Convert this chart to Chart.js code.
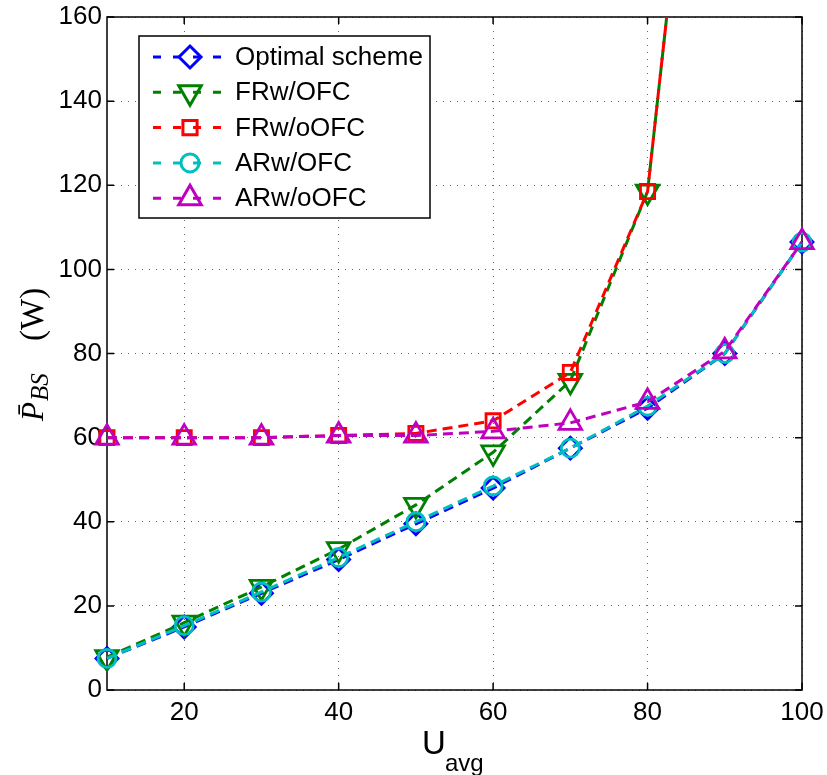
<!DOCTYPE html>
<html>
<head>
<meta charset="utf-8">
<script src="https://cdn.jsdelivr.net/npm/chart.js@4.4.0/dist/chart.umd.min.js"></script>
<style>
  body { margin: 0; background: #fff; }
  canvas { display: block; }
</style>
</head>
<body>
<canvas id="powerChart" width="827" height="775"></canvas>
<script>
// x values and tick labels
const uAvg = [10, 20, 30, 40, 50, 60, 70, 80, 90, 100];
const xTicks = [20, 40, 60, 80, 100];
const yTicks = [0, 20, 40, 60, 80, 100, 120, 140, 160];

// series (W)
const optimalScheme = [7.5, 15, 23, 31, 39.5, 48, 57.5, 67, 80, 106.5];
const frwOfc = [7.8, 16, 24.5, 33.5, 44, 56.5, 73.5, 118.5, 286, null];
const frwoOfc = [60, 60, 60, 60.5, 61, 64, 75.5, 118.5, 286, null];
const arwOfc = [7.5, 15.3, 23.3, 31.5, 40, 48.5, 57.5, 67.5, 80, 106.5];
const arwoOfc = [60, 60, 60, 60.5, 60.5, 61.5, 63.5, 68.5, 80.5, 106.5];

const seriesNames = ['Optimal scheme', 'FRw/OFC', 'FRw/oOFC', 'ARw/OFC', 'ARw/oOFC'];
const seriesData = [optimalScheme, frwOfc, frwoOfc, arwOfc, arwoOfc];

const styles = [
    { color: '#0000ff', pointStyle: 'rectRot', radius: 11, rotation: 0 },
    { color: '#008000', pointStyle: 'triangle', radius: 13, rotation: 180 },
    { color: '#ff0000', pointStyle: 'rect', radius: 10, rotation: 0 },
    { color: '#00bfbf', pointStyle: 'circle', radius: 9, rotation: 0 },
    { color: '#bf00bf', pointStyle: 'triangle', radius: 13, rotation: 0 }
];

const SANS = '"Liberation Sans", Arial, Helvetica, sans-serif';
const SERIF = '"Liberation Serif", "Times New Roman", serif';
const LINE_W = 3;
const MARK_W = 2.8;
const DASH = [10, 6];

// box around the axes with inward tick marks (matlab style)
const framePlugin = {
    id: 'frame',
    beforeDatasetsDraw(chart) {
        const { ctx, chartArea: a, scales: { x, y } } = chart;
        ctx.save();
        ctx.strokeStyle = '#000';
        ctx.lineWidth = 1.5;
        ctx.strokeRect(a.left, a.top, a.right - a.left, a.bottom - a.top);
        ctx.beginPath();
        xTicks.forEach(v => {
            const px = x.getPixelForValue(v);
            ctx.moveTo(px, a.bottom); ctx.lineTo(px, a.bottom - 7);
            ctx.moveTo(px, a.top); ctx.lineTo(px, a.top + 7);
        });
        yTicks.forEach(v => {
            const py = y.getPixelForValue(v);
            ctx.moveTo(a.left, py); ctx.lineTo(a.left + 7, py);
            ctx.moveTo(a.right, py); ctx.lineTo(a.right - 7, py);
        });
        ctx.stroke();
        ctx.restore();
    }
};

// axis titles with subscripts
const titlesPlugin = {
    id: 'titles',
    afterDraw(chart) {
        const ctx = chart.ctx;
        ctx.save();
        ctx.fillStyle = '#000';
        ctx.textBaseline = 'alphabetic';
        ctx.textAlign = 'left';

        // x title: U_avg
        ctx.font = '33px ' + SANS;
        ctx.fillText('U', 422, 754);
        ctx.font = '24px ' + SANS;
        ctx.fillText('avg', 445, 771);

        // y title: P-bar_BS (W), rotated
        ctx.translate(43, 421);
        ctx.rotate(-Math.PI / 2);
        ctx.font = 'italic 31px ' + SERIF;
        ctx.fillText('P\u0304', 0, 0);
        let u = ctx.measureText('P').width + 1;
        ctx.font = 'italic 25px ' + SERIF;
        ctx.fillText('BS', u, 5);
        ctx.font = '33px ' + SERIF;
        ctx.fillText('(W)', 80, 0);
        ctx.restore();
    }
};

// legend box in the upper left
const legendPlugin = {
    id: 'matLegend',
    afterDraw(chart) {
        const ctx = chart.ctx;
        ctx.save();
        ctx.fillStyle = '#fff';
        ctx.fillRect(139, 36, 291, 182);
        ctx.strokeStyle = '#000';
        ctx.lineWidth = 1.5;
        ctx.strokeRect(139, 36, 291, 182);

        seriesNames.forEach((name, i) => {
            const st = styles[i];
            const yc = 57 + i * 35.3;
            ctx.strokeStyle = st.color;
            ctx.lineWidth = LINE_W;
            ctx.setLineDash([8, 12]);
            ctx.beginPath();
            ctx.moveTo(153, yc);
            ctx.lineTo(225, yc);
            ctx.stroke();
            ctx.setLineDash([]);
            ctx.fillStyle = 'rgba(0,0,0,0)';
            Chart.helpers.drawPoint(ctx, {
                pointStyle: st.pointStyle,
                rotation: st.rotation,
                radius: st.radius,
                borderWidth: MARK_W
            }, 190, yc);

            ctx.fillStyle = '#000';
            ctx.font = '26px ' + SANS;
            ctx.textBaseline = 'middle';
            ctx.fillText(name, 235, yc + 1);
        });
        ctx.restore();
    }
};

const datasets = seriesNames.map((name, i) => ({
    label: name,
    data: seriesData[i],
    borderColor: styles[i].color,
    backgroundColor: 'rgba(0,0,0,0)',
    borderWidth: LINE_W,
    borderDash: DASH,
    pointStyle: styles[i].pointStyle,
    pointRotation: styles[i].rotation,
    pointRadius: styles[i].radius,
    pointBorderWidth: MARK_W,
    pointBorderColor: styles[i].color,
    pointBackgroundColor: 'rgba(0,0,0,0)',
    tension: 0,
    clip: { left: false, top: 0, right: false, bottom: false },
    order: seriesNames.length - i
}));

const powerChart = new Chart(document.getElementById('powerChart').getContext('2d'), {
    type: 'line',
    data: { labels: uAvg, datasets: datasets },
    options: {
        responsive: false,
        animation: false,
        events: [],
        layout: { padding: { top: 17, right: 25, left: 0, bottom: 0 } },
        plugins: {
            legend: { display: false },
            tooltip: { enabled: false }
        },
        scales: {
            x: {
                type: 'linear',
                min: 10,
                max: 100,
                afterBuildTicks: scale => { scale.ticks = xTicks.map(v => ({ value: v })); },
                afterFit: scale => {
                    scale.height = 85;
                    scale.paddingLeft = 0;
                    scale.paddingRight = 0;
                },
                grid: { color: 'rgba(0,0,0,0.6)', lineWidth: 1, drawTicks: false },
                border: { display: false, dash: [1, 6] },
                ticks: { color: '#000', font: { family: SANS, size: 26 }, padding: 7, maxRotation: 0 }
            },
            y: {
                min: 0,
                max: 160,
                afterBuildTicks: scale => { scale.ticks = yTicks.map(v => ({ value: v })); },
                afterFit: scale => {
                    scale.width = 107;
                    scale.paddingTop = 0;
                    scale.paddingBottom = 0;
                },
                grid: { color: 'rgba(0,0,0,0.6)', lineWidth: 1, drawTicks: false },
                border: { display: false, dash: [1, 6] },
                ticks: { color: '#000', font: { family: SANS, size: 26 }, padding: 5 }
            }
        }
    },
    plugins: [framePlugin, titlesPlugin, legendPlugin]
});
</script>
</body>
</html>
